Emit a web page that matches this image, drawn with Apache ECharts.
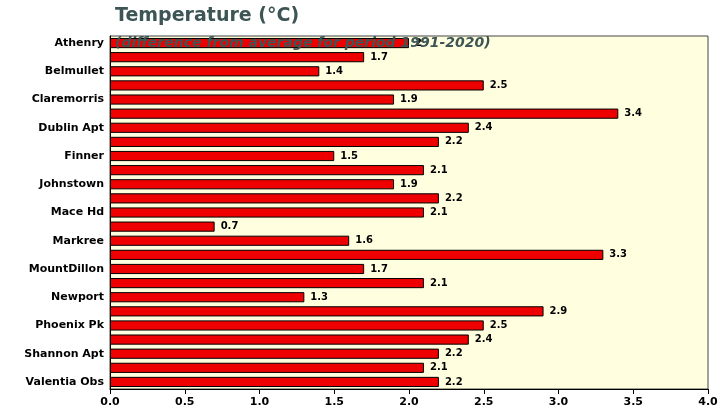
<!DOCTYPE html>
<html>
<head>
<meta charset="utf-8">
<script src="https://cdn.jsdelivr.net/npm/echarts@6/dist/echarts.min.js"></script>
<style>html,body{margin:0;padding:0;background:#fff}</style>
</head>
<body>
<div id="chart" style="width:724px;height:419px"></div>
<script>
var stations = ["Athenry","Ballyhaise","Belmullet","Casement","Claremorris","Cork Apt","Dublin Apt","Dunsany","Finner","Gurteen","Johnstown","Knock Apt","Mace Hd","Malin Hd","Markree","Moore Park","MountDillon","Mullingar","Newport","Oak Pk","Phoenix Pk","Roches Pt","Shannon Apt","Sherkin","Valentia Obs"];
var anomalies = [2, 1.7, 1.4, 2.5, 1.9, 3.4, 2.4, 2.2, 1.5, 2.1, 1.9, 2.2, 2.1, 0.7, 1.6, 3.3, 1.7, 2.1, 1.3, 2.9, 2.5, 2.4, 2.2, 2.1, 2.2];

var chart = echarts.init(document.getElementById("chart"));
chart.setOption({
  backgroundColor: "#fff",
  title: {
    text: "Temperature (°C)",
    subtext: "(difference from average for period 1991-2020)",
    left: 110, top: 2,
    textStyle: { fontFamily: "DejaVu Sans", fontSize: 19, fontWeight: "bold", color: "#3d5555" },
    subtextStyle: { fontFamily: "DejaVu Sans", fontSize: 14, fontStyle: "italic", fontWeight: "bold", color: "#3d5555" }
  },
  grid: { left: 110, right: 16, top: 36, bottom: 30, backgroundColor: "#ffffe0", show: true, borderColor: "#444", borderWidth: 1 },
  xAxis: {
    type: "value", min: 0, max: 4, interval: 0.5,
    splitLine: { show: false },
    axisLine: { show: true, lineStyle: { color: "#000" } },
    axisTick: { show: true, lineStyle: { color: "#000" } },
    axisLabel: { formatter: function (v) { return v.toFixed(1); }, color: "#000", fontWeight: "bold", fontSize: 11, fontFamily: "DejaVu Sans" }
  },
  yAxis: {
    type: "category", data: stations, inverse: true,
    axisLine: { show: true, lineStyle: { color: "#000" } },
    axisTick: { show: false },
    axisLabel: { color: "#000", fontWeight: "bold", fontSize: 11, fontFamily: "DejaVu Sans", margin: 6 }
  },
  series: [{
    type: "bar", data: anomalies, barCategoryGap: "28%",
    itemStyle: { color: "#ee0000", borderColor: "#000", borderWidth: 1 },
    label: { show: true, position: "right", color: "#000", fontWeight: "bold", fontSize: 10, fontFamily: "DejaVu Sans", distance: 6 }
  }]
});
</script>
</body>
</html>
